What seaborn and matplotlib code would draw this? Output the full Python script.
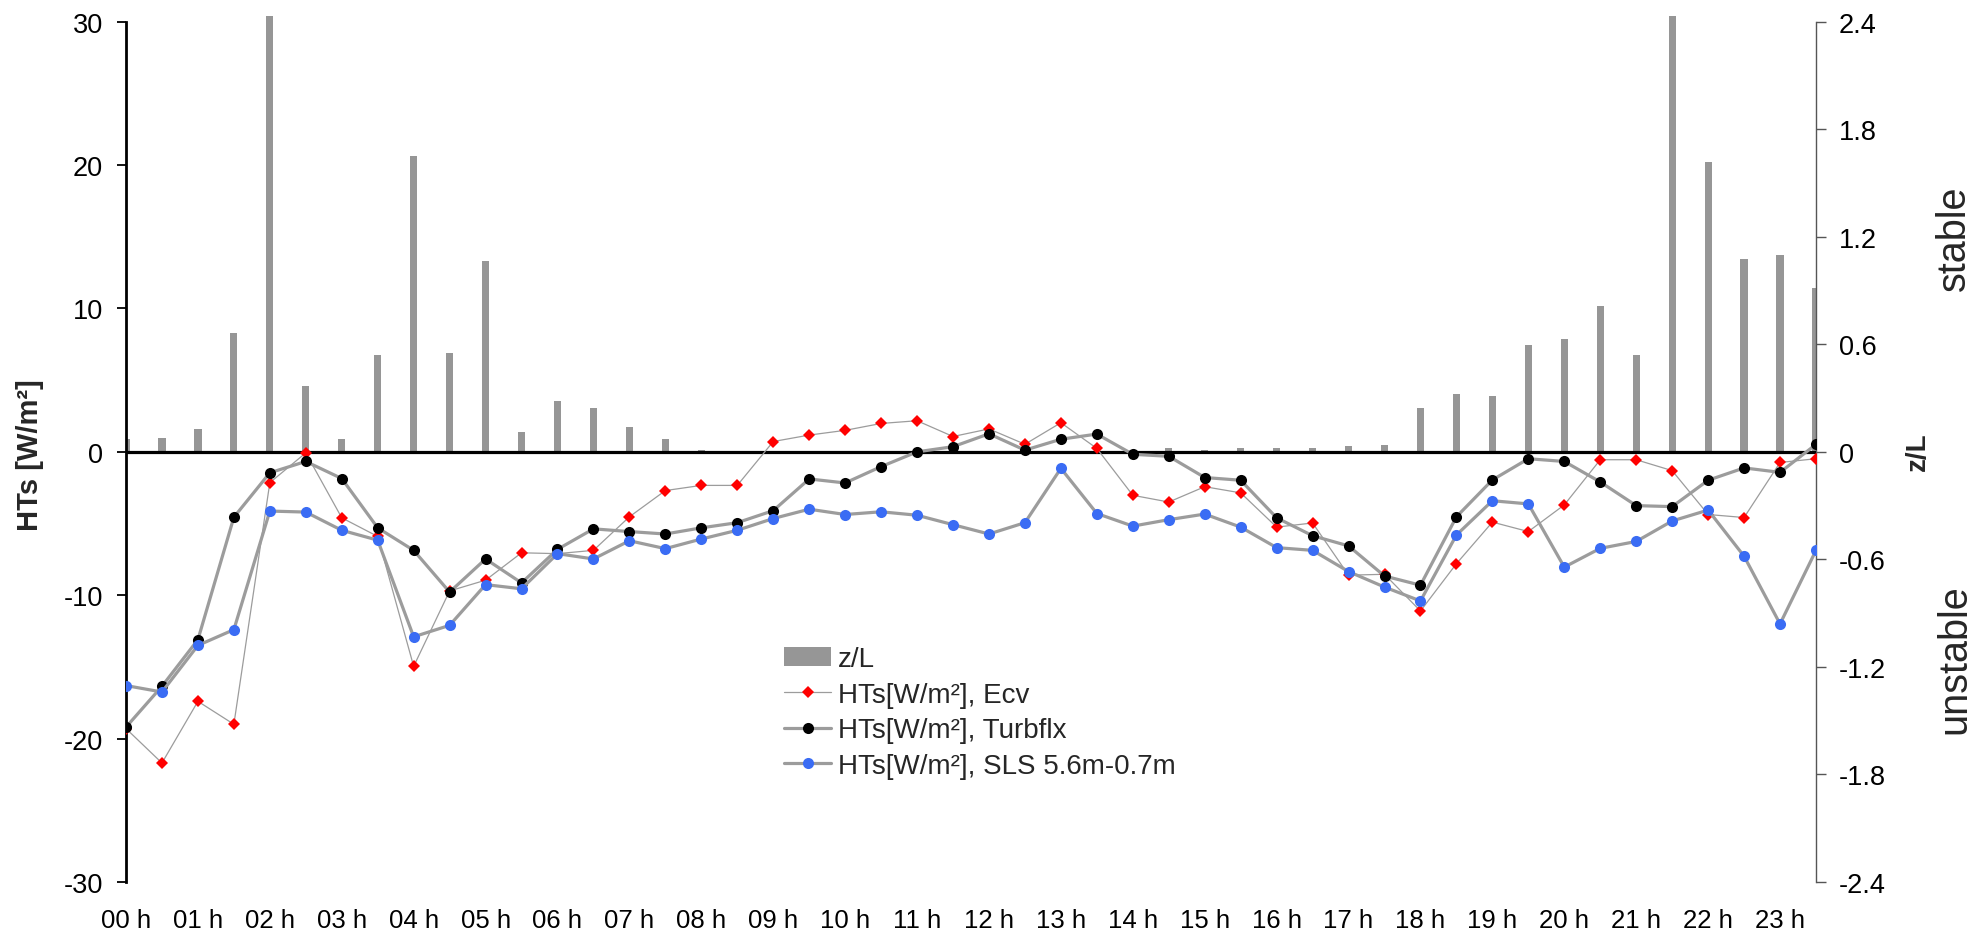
import numpy as np
import pandas as pd
import matplotlib
matplotlib.use("Agg")
import matplotlib.pyplot as plt
import seaborn as sns
from matplotlib.lines import Line2D
from matplotlib.patches import Patch

# ---------------- data ----------------
hour_labels = [f"{h:02d} h" for h in range(24)]
slot = list(range(48))  # half-hour slots 00:00 ... 23:30

zl = [0.07, 0.08, 0.13, 0.665, 2.43, 0.366, 0.074, 0.543, 1.65, 0.554,
      1.067, 0.108, 0.286, 0.247, 0.141, 0.069, 0.013, 0.004, 0.0, 0.0,
      0.0, 0.0, 0.0, 0.0, 0.0, 0.0, 0.0, 0.0, 0.005, 0.02,
      0.013, 0.02, 0.02, 0.019, 0.03, 0.037, 0.247, 0.325, 0.31, 0.595,
      0.628, 0.812, 0.539, 2.43, 1.617, 1.074, 1.10, 0.914]

hts_ecv = [-19.3, -21.7, -17.4, -19.0, -2.15, -0.07, -4.6, -5.9, -14.96, -9.7,
           -8.95, -7.04, -7.1, -6.87, -4.53, -2.7, -2.34, -2.34, 0.72, 1.17,
           1.5, 1.98, 2.17, 1.07, 1.6, 0.53, 2.03, 0.24, -3.03, -3.5,
           -2.43, -2.86, -5.25, -4.96, -8.6, -8.54, -11.1, -7.8, -4.9, -5.56,
           -3.7, -0.55, -0.55, -1.31, -4.37, -4.58, -0.74, -0.48]

hts_turbflx = [-19.2, -16.35, -13.1, -4.56, -1.46, -0.67, -1.86, -5.3, -6.87, -9.78,
               -7.47, -9.14, -6.8, -5.37, -5.56, -5.73, -5.3, -4.94, -4.1, -1.89,
               -2.17, -1.03, 0.0, 0.36, 1.26, 0.12, 0.88, 1.24, -0.17, -0.31,
               -1.79, -1.98, -4.6, -5.85, -6.56, -8.66, -9.3, -4.53, -1.96, -0.48,
               -0.67, -2.1, -3.75, -3.82, -1.98, -1.12, -1.43, 0.52]

hts_sls = [-16.3, -16.75, -13.5, -12.4, -4.13, -4.2, -5.47, -6.16, -12.9, -12.1,
           -9.26, -9.55, -7.1, -7.47, -6.2, -6.75, -6.08, -5.47, -4.65, -4.0,
           -4.37, -4.18, -4.42, -5.08, -5.73, -4.94, -1.15, -4.3, -5.18, -4.73,
           -4.34, -5.25, -6.68, -6.87, -8.35, -9.43, -10.4, -5.8, -3.41, -3.63,
           -8.04, -6.73, -6.25, -4.82, -4.06, -7.28, -12.0, -6.87]

left_ticks = [-30, -20, -10, 0, 10, 20, 30]
right_ticks = [-2.4, -1.8, -1.2, -0.6, 0, 0.6, 1.2, 1.8, 2.4]

series_labels = ["z/L", "HTs[W/m²], Ecv", "HTs[W/m²], Turbflx", "HTs[W/m²], SLS 5.6m-0.7m"]

# ---------------- style ----------------
sns.set_theme(style="ticks")
plt.rcParams['font.family'] = ['Liberation Sans', 'DejaVu Sans']

W, H = 1984, 937
fig = plt.figure(figsize=(W / 100, H / 100), dpi=100)
x0, x1, y_top, y_bot = 126, 1816, 22.7, 883
ax = fig.add_axes([x0 / W, 1 - y_bot / H, (x1 - x0) / W, (y_bot - y_top) / H])
axr = ax.twinx()

bar_color = "#969696"
line_gray = "#9c9c9c"
blue = "#3a6cf4"

# bars (z/L) on right axis
sns.barplot(x=slot, y=zl, ax=axr, native_scale=True, width=0.2, color=bar_color,
            saturation=1, edgecolor="none", linewidth=0)
for p in axr.patches:
    if p.get_height() > 2.4:
        p.set_clip_on(False)

# lines on left axis
sns.lineplot(x=slot, y=hts_ecv, ax=ax, color=line_gray, linewidth=0.9,
             marker="D", markersize=6.2, markerfacecolor="#ff0000",
             markeredgecolor="#ff0000", markeredgewidth=0, zorder=3)
sns.lineplot(x=slot, y=hts_turbflx, ax=ax, color=line_gray, linewidth=2.3,
             marker="o", markersize=8, markerfacecolor="black",
             markeredgecolor="black", markeredgewidth=0, zorder=4)
sns.lineplot(x=slot, y=hts_sls, ax=ax, color=line_gray, linewidth=2.3,
             marker="o", markersize=8, markerfacecolor=blue,
             markeredgecolor=blue, markeredgewidth=0, zorder=5)

ax.axhline(0, color="black", linewidth=2.3, zorder=2.5)

ax.set_zorder(axr.get_zorder() + 1)
ax.patch.set_visible(False)

ax.set_xlim(0, 47)
axr.set_xlim(0, 47)
ax.set_ylim(-30, 30)
axr.set_ylim(-2.4, 2.4)

ax.set_xticks(slot[::2])
ax.set_xticklabels(hour_labels)
ax.set_yticks(left_ticks)
ax.set_yticklabels([str(t) for t in left_ticks])
axr.set_yticks(right_ticks)
axr.set_yticklabels([f"{t:g}" for t in right_ticks])
ax.set_xlabel("")
ax.set_ylabel("")
axr.set_xlabel("")
axr.set_ylabel("")

for s in ["top", "right", "bottom"]:
    ax.spines[s].set_visible(False)
ax.spines["left"].set_color("black")
ax.spines["left"].set_linewidth(2.0)
for s in ["top", "left", "bottom"]:
    axr.spines[s].set_visible(False)
axr.spines["right"].set_color("#555555")
axr.spines["right"].set_linewidth(1.0)

ax.tick_params(axis="x", length=0, pad=19, labelsize=18.5, colors="black", bottom=True)
ax.tick_params(axis="y", direction="out", length=6.7, width=1.3, pad=10,
               labelsize=19.5, colors="black", left=True, right=False)
axr.tick_params(axis="y", direction="out", length=7.2, width=1.0, pad=9.4,
                labelsize=19.5, color="#555555", labelcolor="black", right=True, left=False)
axr.tick_params(axis="x", bottom=False, labelbottom=False)

# axis titles
fig.text(30 / W, 1 - 455 / H, "HTs [W/m²]", rotation=90, fontsize=21,
         fontweight="bold", ha="center", va="center")
fig.text(1918 / W, 1 - 452 / H, "z/L", rotation=90, fontsize=20,
         fontweight="bold", ha="center", va="center")
fig.text(1954 / W, 1 - 238 / H, "stable", rotation=90, fontsize=28.5,
         ha="center", va="center")
fig.text(1954 / W, 1 - 659 / H, "unstable", rotation=90, fontsize=28.5,
         ha="center", va="center")

# legend
handles = [
    Patch(facecolor=bar_color, edgecolor="none"),
    Line2D([], [], color=line_gray, lw=0.9, marker="D", markersize=6.2,
           markerfacecolor="#ff0000", markeredgecolor="#ff0000", markeredgewidth=0),
    Line2D([], [], color=line_gray, lw=2.3, marker="o", markersize=8,
           markerfacecolor="black", markeredgecolor="black", markeredgewidth=0),
    Line2D([], [], color=line_gray, lw=2.3, marker="o", markersize=8,
           markerfacecolor=blue, markeredgecolor=blue, markeredgewidth=0),
]
ax.legend(handles, series_labels, loc="upper left",
          bbox_to_anchor=(784 / W, 1 - 647 / H), bbox_transform=fig.transFigure,
          frameon=False, fontsize=20, borderpad=0, borderaxespad=0,
          handlelength=1.7, handletextpad=0.25, labelspacing=0.35)

fig.savefig("out.png", dpi=100)
